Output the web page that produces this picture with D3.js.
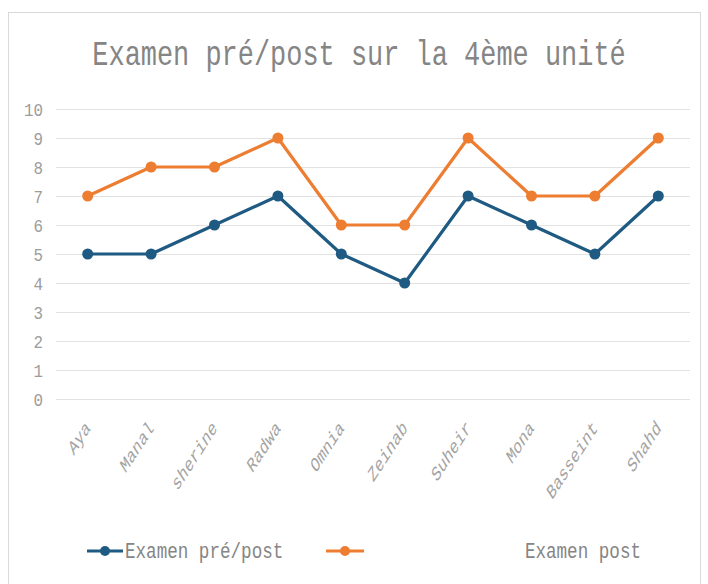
<!DOCTYPE html>
<html>
<head>
<meta charset="utf-8">
<script src="https://cdn.jsdelivr.net/npm/d3@7"></script>
<style>
  html, body { margin: 0; padding: 0; background: #fff; }
  svg { display: block; }
  text { font-family: "Liberation Mono", "DejaVu Sans Mono", monospace; }
</style>
</head>
<body>
<svg id="chart" width="708" height="584"></svg>
<script>
// Students, scores before and after the unit
const students = ["Aya", "Manal", "sherine", "Radwa", "Omnia", "Zeinab", "Suheir", "Mona", "Basseint", "Shahd"];
const preScores = [5, 5, 6, 7, 5, 4, 7, 6, 5, 7];
const postScores = [7, 8, 8, 9, 6, 6, 9, 7, 7, 9];
const yTicks = [0, 1, 2, 3, 4, 5, 6, 7, 8, 9, 10];
const seriesNames = ["Examen pré/post", "Examen post"];
const title = "Examen pré/post sur la 4ème unité";

const colors = ["#1f5a82", "#ed7d31"];
const textColor = "#858585";

const svg = d3.select("#chart");

// outer chart frame
svg.append("rect")
  .attr("x", 8.5).attr("y", 12.5)
  .attr("width", 692).attr("height", 580)
  .attr("fill", "#fff")
  .attr("stroke", "#d9d9d9");

svg.append("text")
  .attr("transform", "translate(359,65) scale(0.77,1)")
  .attr("text-anchor", "middle")
  .attr("font-size", 35)
  .attr("fill", textColor)
  .text(title);

const x = d3.scaleBand().domain(students).range([56, 690]);
const y = d3.scaleLinear().domain([0, 10]).range([399, 109]);

// horizontal gridlines
svg.append("g")
  .selectAll("line")
  .data(yTicks)
  .join("line")
  .attr("x1", 56).attr("x2", 690)
  .attr("y1", d => Math.round(y(d)) + 0.5)
  .attr("y2", d => Math.round(y(d)) + 0.5)
  .attr("stroke", "#e2e2e2")
  .attr("stroke-width", 1);

// y axis labels
const yAxis = d3.axisLeft(y).tickValues(yTicks).tickSize(0).tickPadding(0);
const yg = svg.append("g").attr("transform", "translate(43,0)").call(yAxis);
yg.select(".domain").remove();
yg.selectAll("text")
  .attr("font-family", "Liberation Mono, monospace")
  .attr("font-size", 18)
  .attr("fill", "#9c9c9c")
  .attr("text-anchor", "end")
  .attr("x", 0)
  .attr("dy", "0.35em")
  .attr("transform", "scale(0.88,1)");

// x axis labels, rotated
const xAxis = d3.axisBottom(x).tickSize(0).tickPadding(0);
const xg = svg.append("g").attr("transform", "translate(0,399)").call(xAxis);
xg.select(".domain").remove();
xg.selectAll("text")
  .attr("font-family", "Liberation Mono, monospace")
  .attr("font-size", 21)
  .attr("fill", "#a3a3a3")
  .attr("text-anchor", "end")
  .attr("y", 0)
  .attr("dy", "0.35em")
  .attr("transform", "translate(0,25) scale(0.65,1) rotate(-45)");

const cx = d => x(d) + x.bandwidth() / 2;
const line = d3.line().x(d => cx(d.name)).y(d => y(d.v));

[preScores, postScores].forEach((vals, i) => {
  const pts = students.map((name, k) => ({ name, v: vals[k] }));
  const g = svg.append("g");
  g.append("path")
    .datum(pts)
    .attr("d", line)
    .attr("fill", "none")
    .attr("stroke", colors[i])
    .attr("stroke-width", 3.2)
    .attr("stroke-linejoin", "round");
  g.selectAll("circle")
    .data(pts)
    .join("circle")
    .attr("cx", d => cx(d.name))
    .attr("cy", d => y(d.v))
    .attr("r", 5.5)
    .attr("fill", colors[i]);
});

// legend
const legend = [
  { x1: 87, x2: 123, tx: 125, anchor: "start" },
  { x1: 326, x2: 364, tx: 641, anchor: "end" }
];
legend.forEach((L, i) => {
  const g = svg.append("g");
  g.append("line")
    .attr("x1", L.x1).attr("x2", L.x2)
    .attr("y1", 551).attr("y2", 551)
    .attr("stroke", colors[i]).attr("stroke-width", 3.2);
  g.append("circle")
    .attr("cx", (L.x1 + L.x2) / 2).attr("cy", 551).attr("r", 5)
    .attr("fill", colors[i]);
  g.append("text")
    .attr("transform", `translate(${L.tx},558) scale(0.8,1)`)
    .attr("text-anchor", L.anchor)
    .attr("font-size", 22)
    .attr("fill", textColor)
    .text(seriesNames[i]);
});
</script>
</body>
</html>
